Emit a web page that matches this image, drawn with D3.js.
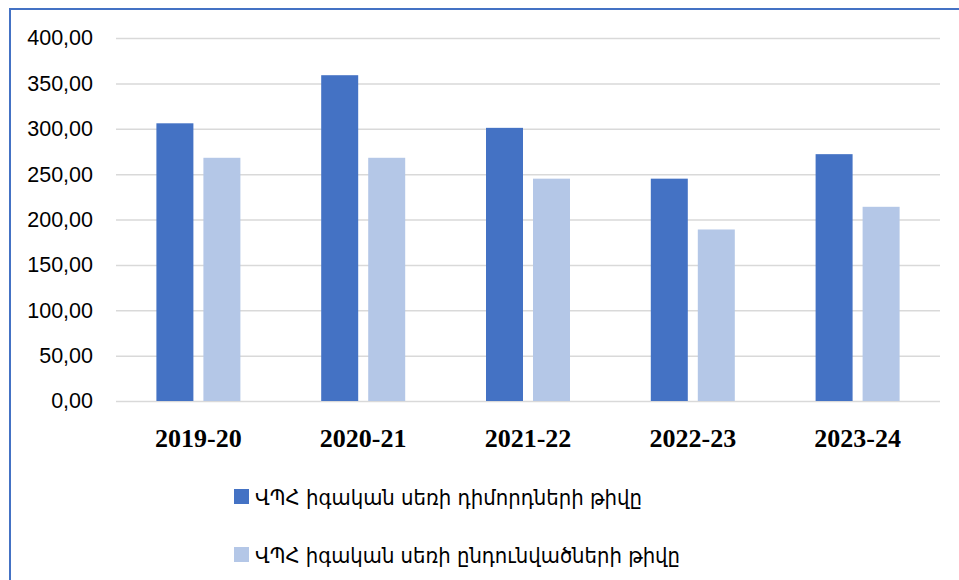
<!DOCTYPE html>
<html>
<head>
<meta charset="utf-8">
<script src="https://cdn.jsdelivr.net/npm/d3@7"></script>
<style>
  html, body { margin: 0; padding: 0; background: #fff; }
  svg { display: block; }
</style>
</head>
<body>
<svg id="chart" width="959" height="580"></svg>
<script>
const categories = ["2019-20", "2020-21", "2021-22", "2022-23", "2023-24"];
const seriesNames = [
  "ՎՊՀ իգական սեռի դիմորդների թիվը",
  "ՎՊՀ իգական սեռի ընդունվածների թիվը"
];
const applicants = [306, 359, 301, 245, 272];
const admitted = [268, 268, 245, 189, 214];
const yTicks = [0, 50, 100, 150, 200, 250, 300, 350, 400];
const colors = ["#4472c4", "#b4c7e7"];

const svg = d3.select("#chart");
const W = 959, H = 580;

// frame border (top and left visible)
svg.append("line").attr("x1", 10).attr("x2", W).attr("y1", 9).attr("y2", 9)
  .attr("stroke", "#4472c4").attr("stroke-width", 2);
svg.append("line").attr("x1", 10).attr("x2", 10).attr("y1", 8).attr("y2", H)
  .attr("stroke", "#4472c4").attr("stroke-width", 2);

const plotLeft = 116, plotRight = 940, plotTop = 38, plotBottom = 401;

const y = d3.scaleLinear().domain([0, 400]).range([plotBottom, plotTop]);
const x0 = d3.scaleBand().domain(categories).range([plotLeft, plotRight]).padding(0);
const x1 = d3.scaleBand().domain([0, 1]).range([-42, 42]).paddingInner(0.213).paddingOuter(0);

// gridlines
const yAxis = d3.axisLeft(y).tickValues(yTicks)
  .tickSize(-(plotRight - plotLeft))
  .tickFormat(d => d3.format(".2f")(d).replace(".", ","));
const gy = svg.append("g").attr("transform", `translate(${plotLeft},0)`).call(yAxis);
gy.select(".domain").remove();
gy.selectAll(".tick line").attr("stroke", "#d9d9d9").attr("stroke-width", 1.5);
gy.selectAll(".tick text")
  .attr("x", -23)
  .attr("fill", "#000")
  .style("font-family", "'Liberation Sans', Arial, sans-serif")
  .style("font-size", "21.5px");

// bars
const data = categories.map((c, i) => ({ cat: c, vals: [applicants[i], admitted[i]] }));
const groups = svg.append("g").selectAll("g").data(data).join("g")
  .attr("transform", d => `translate(${x0(d.cat) + x0.bandwidth() / 2},0)`);
groups.selectAll("rect").data(d => d.vals.map((v, k) => ({ k, v }))).join("rect")
  .attr("x", d => x1(d.k))
  .attr("width", x1.bandwidth())
  .attr("y", d => y(d.v))
  .attr("height", d => y(0) - y(d.v))
  .attr("fill", d => colors[d.k]);

// x axis labels
const xAxis = d3.axisBottom(x0).tickSize(0).tickPadding(0);
const gx = svg.append("g").attr("transform", `translate(0,${plotBottom})`).call(xAxis);
gx.select(".domain").remove();
gx.selectAll(".tick text")
  .attr("y", 46)
  .attr("dy", 0)
  .attr("fill", "#000")
  .style("font-family", "'Liberation Serif', 'Times New Roman', serif")
  .style("font-weight", "bold")
  .style("font-size", "26px");

// legend
const legendRows = [0, 1];
const legendWidths = [387, 425];
const legend = svg.append("g").selectAll("g").data(legendRows).join("g")
  .attr("transform", d => `translate(234,${489 + d * 58})`);
legend.append("rect").attr("width", 15).attr("height", 15).attr("fill", d => colors[d]);
legend.append("text")
  .attr("x", 21).attr("y", 16)
  .attr("fill", "#000")
  .attr("textLength", d => legendWidths[d])
  .attr("lengthAdjust", "spacingAndGlyphs")
  .style("font-family", "'DejaVu Sans', sans-serif")
  .style("font-size", "22px")
  .text(d => seriesNames[d]);
</script>
</body>
</html>
